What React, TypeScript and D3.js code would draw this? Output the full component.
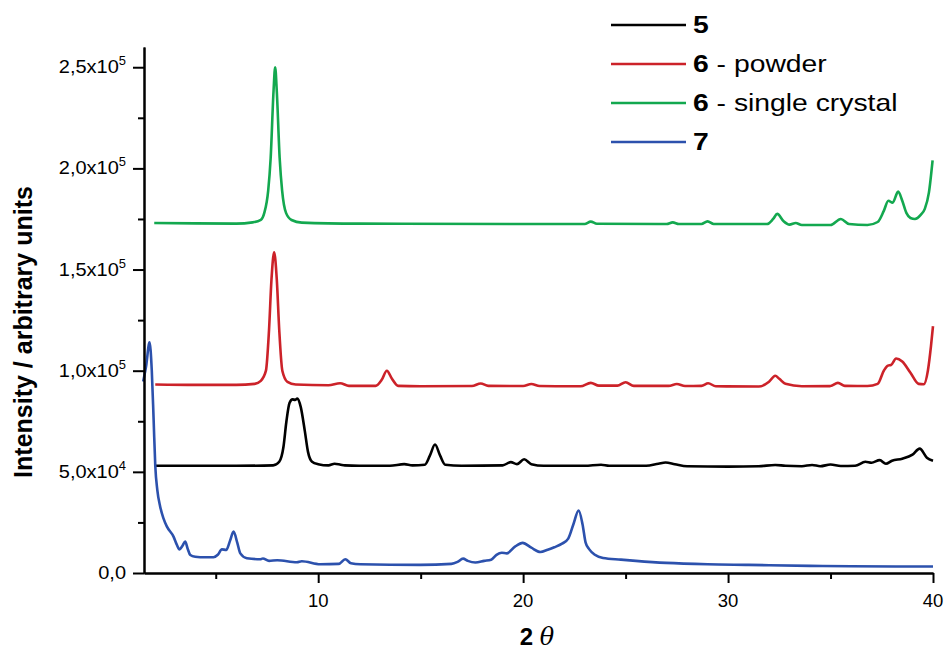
import * as d3 from 'd3';
import { useEffect, useRef } from 'react';

// 2-theta vs intensity
const series5: [number, number][] = [
  [2.05, 53000], [4, 53000], [6, 53000], [7.8, 53200], [8.1, 55000], [8.3, 62000], [8.45, 75000],
  [8.6, 84000], [8.75, 85800], [8.87, 85600], [8.98, 86200], [9.15, 82000], [9.35, 70000],
  [9.5, 60000], [9.7, 55000], [10.0, 53800], [10.5, 53200], [10.8, 54000], [11.1, 53500],
  [11.3, 53200], [12, 53000], [13.5, 53000], [14.2, 53800], [14.6, 53200], [15.2, 53500],
  [15.45, 58000], [15.7, 63500], [15.95, 58000], [16.2, 53500], [17, 53000], [19, 53200],
  [19.4, 54800], [19.7, 53800], [20.05, 56200], [20.4, 53800], [21, 53000], [23, 53000],
  [23.8, 53500], [24.2, 53000], [26, 53000], [26.6, 54000], [26.95, 54600], [27.4, 53800],
  [28, 52800], [30, 52600], [31.5, 52800], [32.3, 53400], [32.8, 53000], [33.6, 52800],
  [34.1, 53400], [34.5, 52800], [35.0, 53600], [35.5, 52900], [36.2, 53000], [36.7, 55000],
  [37.0, 54500], [37.4, 55800], [37.7, 54000], [38.0, 55500], [38.5, 56500], [39.0, 58500],
  [39.35, 61500], [39.7, 57000], [40, 55500],
];

const series6powder: [number, number][] = [
  [2.05, 93200], [4, 93000], [6, 93000], [6.9, 93500], [7.2, 95000], [7.45, 100000], [7.6, 120000],
  [7.72, 145000], [7.85, 158500], [7.98, 145000], [8.1, 120000], [8.25, 100000], [8.5, 94500],
  [8.9, 93200], [10.5, 92800], [11.07, 93800], [11.5, 92500], [12.8, 92500], [13.1, 95500],
  [13.35, 100000], [13.6, 96000], [13.9, 92500], [15, 92300], [17.5, 92400], [17.93, 93700],
  [18.3, 92500], [20, 92400], [20.4, 93400], [20.8, 92400], [22.8, 92300], [23.3, 94000],
  [23.7, 92600], [24.6, 92600], [25.0, 94300], [25.4, 92500], [27.1, 92500], [27.5, 93400],
  [27.9, 92400], [28.7, 92500], [29.03, 93800], [29.4, 92300], [31.5, 92200], [32.0, 94500],
  [32.3, 97500], [32.5, 96000], [32.8, 93500], [33.6, 92300], [35.0, 92400], [35.36, 94000],
  [35.7, 92500], [36.8, 92400], [37.3, 93500], [37.6, 100000], [37.8, 102500], [37.95, 102800],
  [38.2, 106000], [38.5, 104500], [38.9, 99000], [39.3, 93500], [39.55, 93300], [39.75, 100000],
  [39.9, 112000], [40.0, 122000],
];

const series6crystal: [number, number][] = [
  [2.0, 173000], [4, 172800], [6, 172700], [6.8, 173300], [7.2, 174500], [7.37, 178000],
  [7.56, 189000], [7.68, 205000], [7.82, 238000], [7.9, 250000], [7.98, 238000], [8.12, 205000],
  [8.24, 189000], [8.43, 178000], [8.7, 174500], [9.2, 173200], [12, 172700], [20, 172500],
  [23.0, 172500], [23.3, 173700], [23.6, 172600], [27.0, 172500], [27.3, 173300], [27.6, 172500],
  [28.7, 172500], [29.0, 173800], [29.3, 172500], [31.9, 172500], [32.2, 175000], [32.4, 177500],
  [32.7, 174000], [33.0, 172200], [33.3, 173000], [33.6, 172000], [35.0, 172000], [35.5, 175000],
  [35.9, 172500], [36.8, 172000], [37.3, 173500], [37.6, 179000], [37.82, 184000], [38.03, 183000],
  [38.3, 188500], [38.5, 184000], [38.7, 178000], [38.9, 175500], [39.12, 175000], [39.4, 177000],
  [39.6, 180000], [39.8, 188000], [39.98, 204000],
];

const series7: [number, number][] = [
  [1.46, 94700], [1.6, 102000], [1.77, 114000], [1.88, 100000], [1.97, 75700], [2.05, 53000],
  [2.15, 41000], [2.29, 32800], [2.45, 27000], [2.62, 22900], [2.94, 18000], [3.1, 14000],
  [3.23, 11700], [3.38, 13500], [3.51, 15500], [3.63, 12000], [3.76, 8900], [4.0, 8000],
  [4.24, 7800], [4.89, 7800], [5.1, 9000], [5.3, 11700], [5.51, 11400], [5.7, 16000],
  [5.87, 20500], [6.05, 15000], [6.2, 9700], [6.52, 7300], [7.17, 6800], [7.3, 7200],
  [7.6, 6000], [8.0, 6300], [8.96, 5300], [9.2, 5800], [10.1, 4300], [11.0, 4500],
  [11.32, 6800], [11.6, 4800], [12.05, 4300], [14.98, 4000], [16.5, 4500], [16.8, 5500],
  [17.07, 7100], [17.3, 6000], [17.67, 5200], [18.1, 6000], [18.44, 6600], [18.7, 9000],
  [18.96, 10000], [19.2, 9700], [19.6, 13000], [19.98, 14900], [20.4, 12500], [20.84, 10400],
  [21.2, 11500], [21.52, 12700], [21.9, 14500], [22.2, 17000], [22.45, 24000], [22.71, 30900],
  [22.9, 24000], [23.05, 15000], [23.22, 11800], [23.5, 9000], [23.9, 7400], [24.77, 6600],
  [25.5, 6000], [26.98, 5000], [29, 4300], [31, 4000], [34, 3500], [36, 3300], [40, 3200],
];

const xMajor = [10, 20, 30, 40];
const xMinor = [5, 15, 25, 35];
const yMajor = [0, 50000, 100000, 150000, 200000, 250000];
const yMinor = [25000, 75000, 125000, 175000, 225000];
// tick labels: mantissa + power of ten
const yLabels: [string, string][] = [
  ['0,0', ''], ['5,0x10', '4'], ['1,0x10', '5'], ['1,5x10', '5'], ['2,0x10', '5'], ['2,5x10', '5'],
];

const legendItems = [
  { bold: '5', rest: '', color: '#000000', data: series5 },
  { bold: '6', rest: ' - powder', color: '#cc2229', data: series6powder },
  { bold: '6', rest: ' - single crystal', color: '#13a84f', data: series6crystal },
  { bold: '7', rest: '', color: '#2c51ad', data: series7 },
];

const W = 947;
const H = 656;
const plot = { left: 144, right: 933, top: 47, bottom: 573 };
const font = '"Liberation Sans", Arial, sans-serif';

export default function App() {
  const xAxisMajor = useRef<SVGGElement>(null);
  const xAxisMinor = useRef<SVGGElement>(null);
  const yAxisMajor = useRef<SVGGElement>(null);
  const yAxisMinor = useRef<SVGGElement>(null);

  const x = d3.scaleLinear().domain([1.5, 40]).range([plot.left, plot.right]);
  const y = d3.scaleLinear().domain([0, 260000]).range([plot.bottom, plot.top]);
  const line = d3.line<[number, number]>()
    .x(d => x(d[0]))
    .y(d => y(d[1]))
    .curve(d3.curveMonotoneX);

  useEffect(() => {
    const style = (g: d3.Selection<SVGGElement, unknown, null, undefined>) => {
      g.selectAll('text').remove();
      g.selectAll('line').attr('stroke', '#000').attr('stroke-width', 2);
      g.select('.domain').attr('stroke', '#000').attr('stroke-width', 2);
    };
    d3.select(xAxisMajor.current!)
      .call(d3.axisBottom(x).tickValues(xMajor).tickSize(10).tickSizeOuter(0).tickFormat(() => ''))
      .call(style);
    d3.select(xAxisMinor.current!)
      .call(d3.axisBottom(x).tickValues(xMinor).tickSize(6).tickSizeOuter(0).tickFormat(() => ''))
      .call(style);
    d3.select(yAxisMajor.current!)
      .call(d3.axisLeft(y).tickValues(yMajor).tickSize(11).tickSizeOuter(0).tickFormat(() => ''))
      .call(style);
    d3.select(yAxisMinor.current!)
      .call(d3.axisLeft(y).tickValues(yMinor).tickSize(6).tickSizeOuter(0).tickFormat(() => ''))
      .call(style);
  }, []);

  return (
    <svg width={W} height={H} style={{ position: 'absolute', left: 0, top: 0, background: '#fff' }}
      fontFamily={font}>
      {legendItems.map(s => (
        <path key={s.bold + s.rest} d={line(s.data) ?? ''} fill="none" stroke={s.color}
          strokeWidth={2.6} strokeLinejoin="round" />
      ))}

      <g ref={xAxisMajor} transform={`translate(0,${plot.bottom})`} />
      <g ref={xAxisMinor} transform={`translate(0,${plot.bottom})`} />
      <g ref={yAxisMajor} transform={`translate(${plot.left},0)`} />
      <g ref={yAxisMinor} transform={`translate(${plot.left},0)`} />

      {xMajor.map(v => (
        <text key={v} x={x(v)} y={607} textAnchor="middle" fontSize={18.5}>{v}</text>
      ))}
      {yMajor.map((v, i) => (
        <text key={v} transform={`translate(126,${y(v) + 6}) scale(1.08,1)`} textAnchor="end" fontSize={18.5}>
          {yLabels[i][0]}
          {yLabels[i][1] && <tspan fontSize={12} dy={-8}>{yLabels[i][1]}</tspan>}
        </text>
      ))}

      <text transform={`translate(32,${(plot.top + plot.bottom) / 2 + 22}) rotate(-90)`}
        textAnchor="middle" fontSize={25} fontWeight="bold">Intensity / arbitrary units</text>
      <text x={537} y={645} textAnchor="middle" fontSize={24}>
        <tspan fontWeight="bold">2</tspan> <tspan fontStyle="italic" fontFamily="'DejaVu Serif', serif">θ</tspan>
      </text>

      {legendItems.map((s, i) => {
        const ly = 25 + i * 39;
        return (
          <g key={'lg' + i}>
            <line x1={611} x2={686} y1={ly} y2={ly} stroke={s.color} strokeWidth={2.6} />
            <text transform={`translate(693,${ly + 8}) scale(1.18,1)`} fontSize={24}>
              <tspan fontWeight="bold">{s.bold}</tspan>{s.rest}
            </text>
          </g>
        );
      })}
    </svg>
  );
}
